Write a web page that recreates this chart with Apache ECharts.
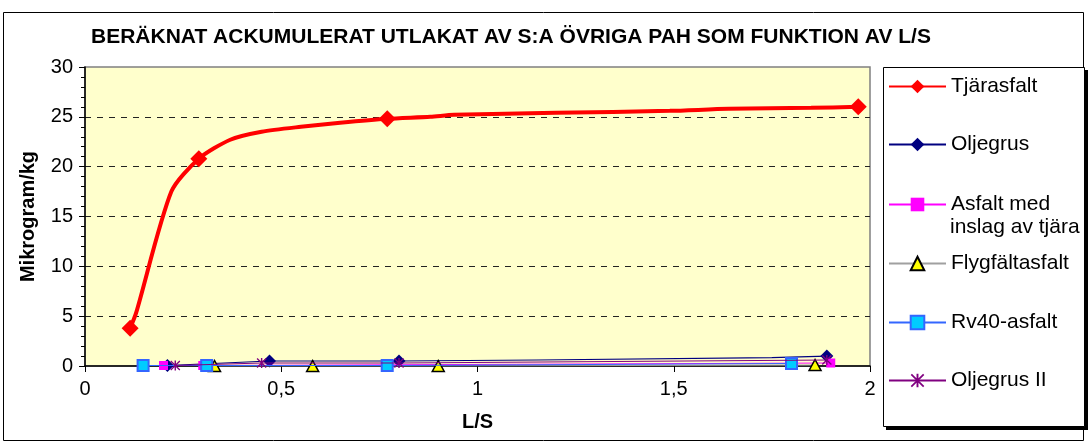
<!DOCTYPE html>
<html>
<head>
<meta charset="utf-8">
<script src="https://cdn.jsdelivr.net/npm/echarts@6/dist/echarts.min.js"></script>
<style>
html,body{margin:0;padding:0;background:#fff;}
#chart{width:1091px;height:442px;}
</style>
</head>
<body>
<div id="chart"></div>
<script>
// ---- Data ----
const titleText = 'BERÄKNAT ACKUMULERAT UTLAKAT AV S:A ÖVRIGA PAH SOM FUNKTION AV L/S';
const xAxisName = 'L/S';
const yAxisName = 'Mikrogram/kg';
const seriesNames = ['Tjärasfalt', 'Oljegrus', 'Asfalt med inslag av tjära', 'Flygfältasfalt', 'Rv40-asfalt', 'Oljegrus II'];

// Tjärasfalt: curve points; measured flags mark the points drawn with a marker
const tjarasfaltX = [0.115, 0.13, 0.22, 0.29, 0.37, 0.45, 0.55, 0.65, 0.77, 0.88, 0.94, 1.20, 1.49, 1.64, 1.85, 1.97];
const tjarasfaltY = [3.8, 5.3, 17.5, 20.8, 22.7, 23.5, 24.0, 24.4, 24.8, 25.0, 25.2, 25.4, 25.6, 25.8, 25.9, 26.0];
const tjarasfaltMeasured = [1,0,0,1,0,0,0,0,1,0,0,0,0,0,0,1];

const oljegrusX = [0.21, 0.47, 0.80, 1.15, 1.75, 1.89];
const oljegrusY = [0.05, 0.5, 0.5, 0.6, 0.85, 1.0];
const oljegrusMeasured = [1,1,1,0,0,1];

const asfaltX = [0.20, 0.30, 1.90];
const asfaltY = [0.05, 0.05, 0.3];

const flygX = [0.33, 0.58, 0.90, 1.86];
const flygY = [0.0, 0.0, 0.0, 0.1];

const rv40X = [0.148, 0.31, 0.77, 1.80];
const rv40Y = [0.05, 0.05, 0.05, 0.25];

const oljegrus2X = [0.23, 0.45, 0.80, 1.89];
const oljegrus2Y = [0.05, 0.3, 0.3, 0.6];

const xTicks = { min: 0, max: 2, interval: 0.5 };
const yTicks = { min: 0, max: 30, interval: 5 };

// ---- Build ----
function pairs(xs, ys, flags) {
  return xs.map((x, i) => {
    const d = { value: [x, ys[i]] };
    if (flags && !flags[i]) d.symbol = 'none';
    return d;
  });
}

const starPath = 'path://M4.3,0H5.7V10H4.3Z M0.9,0L10,9.1L9.1,10L0,0.9Z M9.1,0L10,0.9L0.9,10L0,9.1Z';
const FONT = '"Liberation Sans", Arial, sans-serif';

const chart = echarts.init(document.getElementById('chart'), null, { renderer: 'canvas' });

const legendCenters = [82, 140, 200, 259, 318, 376];
const legends = seriesNames.map((n, i) => ({
  data: [n],
  left: 883,
  top: legendCenters[i] - 11,
  orient: 'vertical',
  itemWidth: 57,
  itemHeight: 17,
  itemGap: 0,
  selectedMode: false,
  formatter: (name) => name === 'Asfalt med inslag av tjära' ? 'Asfalt med' : name,
  textStyle: { fontFamily: FONT, fontSize: 21, color: '#000' }
}));

const option = {
  animation: false,
  backgroundColor: '#fff',
  title: {
    text: titleText,
    left: 86, top: 22,
    textStyle: { fontFamily: FONT, fontSize: 21, fontWeight: 'bold', color: '#000' }
  },
  legend: legends,
  grid: {
    left: 85, right: 221, top: 67, bottom: 76,
    show: true, backgroundColor: '#FFFFCC', borderColor: '#808080', borderWidth: 1.5
  },
  xAxis: {
    type: 'value', min: xTicks.min, max: xTicks.max, interval: xTicks.interval,
    name: xAxisName, nameLocation: 'middle', nameGap: 46,
    nameTextStyle: { fontFamily: FONT, fontSize: 20, fontWeight: 'bold', color: '#000' },
    axisLine: { show: true, onZero: false, lineStyle: { color: '#000', width: 1.5 } },
    axisTick: { show: true, inside: false, length: 6, lineStyle: { color: '#000' } },
    axisLabel: { fontFamily: FONT, fontSize: 20, color: '#000', margin: 13,
      formatter: v => String(v).replace('.', ',') },
    splitLine: { show: false }
  },
  yAxis: {
    type: 'value', min: yTicks.min, max: yTicks.max, interval: yTicks.interval,
    name: yAxisName, nameLocation: 'middle', nameGap: 47, nameRotate: 90,
    nameTextStyle: { fontFamily: FONT, fontSize: 20, fontWeight: 'bold', color: '#000' },
    axisLine: { show: true, lineStyle: { color: '#000', width: 1.5 } },
    axisTick: { show: true, inside: false, length: 6, lineStyle: { color: '#000' } },
    minorTick: { show: true, splitNumber: 5, length: 4, lineStyle: { color: '#000' } },
    axisLabel: { fontFamily: FONT, fontSize: 20, color: '#000', margin: 12 },
    splitLine: { show: true, showMinLine: false, showMaxLine: false,
      lineStyle: { color: '#222', width: 1, type: [6, 6] } }
  },
  series: [
    {
      name: seriesNames[0], type: 'line', data: pairs(tjarasfaltX, tjarasfaltY, tjarasfaltMeasured),
      symbol: 'diamond', symbolSize: 17, smooth: 0.25,
      lineStyle: { color: '#FF0000', width: 4 },
      itemStyle: { color: '#FF0000' }, z: 2
    },
    {
      name: seriesNames[1], type: 'line', data: pairs(oljegrusX, oljegrusY, oljegrusMeasured),
      symbol: 'diamond', symbolSize: 13,
      lineStyle: { color: '#000080', width: 1.2 },
      itemStyle: { color: '#000080' }, z: 3
    },
    {
      name: seriesNames[2], type: 'line', data: pairs(asfaltX, asfaltY),
      symbol: 'rect', symbolSize: 9,
      lineStyle: { color: '#FF00FF', width: 1 },
      itemStyle: { color: '#FF00FF' }, z: 4
    },
    {
      name: seriesNames[3], type: 'line', data: pairs(flygX, flygY),
      symbol: 'triangle', symbolSize: [12, 11],
      lineStyle: { color: '#A0A0A0', width: 1 },
      itemStyle: { color: '#FFFF00', borderColor: '#000', borderWidth: 1.5 }, z: 5
    },
    {
      name: seriesNames[4], type: 'line', data: pairs(rv40X, rv40Y),
      symbol: 'rect', symbolSize: 11,
      lineStyle: { color: '#3366FF', width: 1 },
      itemStyle: { color: '#00CCFF', borderColor: '#3366FF', borderWidth: 2 }, z: 6
    },
    {
      name: seriesNames[5], type: 'line', data: pairs(oljegrus2X, oljegrus2Y),
      symbol: starPath, symbolSize: 10,
      lineStyle: { color: '#800080', width: 1 },
      itemStyle: { color: '#800080' }, z: 7
    }
  ],
  graphic: [
    { type: 'rect', z: -10, silent: true, shape: { x: 3.5, y: 12.5, width: 1080, height: 428 },
      style: { fill: '#fff', stroke: '#000', lineWidth: 1 } },
    { type: 'rect', z: 0, silent: true, shape: { x: 886, y: 70, width: 202, height: 360 },
      style: { fill: '#000' } },
    { type: 'rect', z: 1, silent: true, shape: { x: 883.5, y: 67.5, width: 201, height: 359 },
      style: { fill: '#fff', stroke: '#000', lineWidth: 1 } },
    { type: 'text', z: 10, silent: true, left: 950, top: 217,
      style: { text: 'inslag av tjära', fontFamily: FONT, fontSize: 21, fill: '#000' } }
  ]
};
chart.setOption(option);
</script>
</body>
</html>
